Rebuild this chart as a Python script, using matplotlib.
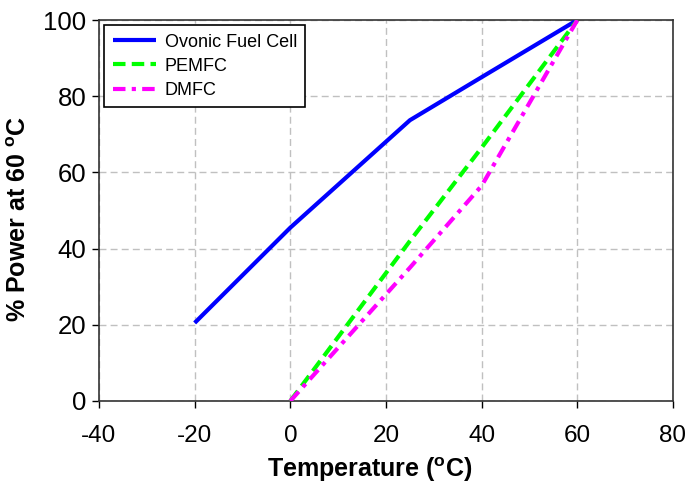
import matplotlib
matplotlib.use("Agg")
import matplotlib.pyplot as plt

plt.rcParams['font.family'] = ['Liberation Sans', 'DejaVu Sans']
plt.rcParams['mathtext.fontset'] = 'custom'
plt.rcParams['mathtext.rm'] = 'Liberation Sans'
plt.rcParams['mathtext.bf'] = 'Liberation Sans:bold'
plt.rcParams['axes.unicode_minus'] = False

# Data
ovonic_t = [-20, -10, 0, 25, 40, 60]
ovonic_p = [20.5, 33, 45.5, 73.7, 85, 100]
pemfc_t = [0, 25, 40, 60]
pemfc_p = [0, 42, 66.5, 100]
dmfc_t = [0, 25, 40, 60]
dmfc_p = [0, 35, 56.5, 100]
labels = ["Ovonic Fuel Cell", "PEMFC", "DMFC"]
xticks = [-40, -20, 0, 20, 40, 60, 80]
yticks = [0, 20, 40, 60, 80, 100]

fig = plt.figure(figsize=(6.88, 4.87), dpi=100)
ax = fig.add_axes([99/688, 1-401/487, (673-99)/688, (401-20)/487])

ax.plot(ovonic_t, ovonic_p, color='#0000FF', lw=3, solid_capstyle='butt', label=labels[0], zorder=3)
ax.plot(pemfc_t, pemfc_p, color='#00FF00', lw=3, linestyle=(0, (3, 1.5)), label=labels[1], zorder=4)
ax.plot(dmfc_t, dmfc_p, color='#FF00FF', lw=3, linestyle=(0, (3, 1.5, 1, 1.5)), label=labels[2], zorder=5)

ax.set_xlim(-40, 80)
ax.set_ylim(0, 100)
ax.set_xticks(xticks)
ax.set_yticks(yticks)
ax.tick_params(axis='x', labelsize=17.5, direction='out', length=5, width=1, pad=12)
ax.tick_params(axis='y', labelsize=18.5, direction='out', length=5, width=1, pad=4)
ax.grid(True, color='#C0C0C0', linestyle=(0, (5, 3)), linewidth=1)
ax.set_axisbelow(True)
for s in ax.spines.values():
    s.set_linewidth(1.2)
    s.set_color('#333333')

ax.set_xlabel(r"Temperature ($^{\mathbf{o}}$C)", fontsize=18, fontweight='bold', labelpad=6)
ax.set_ylabel(r"% Power at 60 $^{\mathbf{o}}$C", fontsize=18, fontweight='bold', labelpad=9)
ax.xaxis.label.set_x(0.472)
ax.yaxis.label.set_y(0.478)

leg = ax.legend(loc='upper left', fontsize=13, frameon=True, fancybox=False,
                edgecolor='black', framealpha=1, borderaxespad=0.3,
                handlelength=2.4, labelspacing=0.4, borderpad=0.45, handletextpad=0.5)
leg.get_frame().set_linewidth(1.2)

fig.savefig("out.png", dpi=100)
